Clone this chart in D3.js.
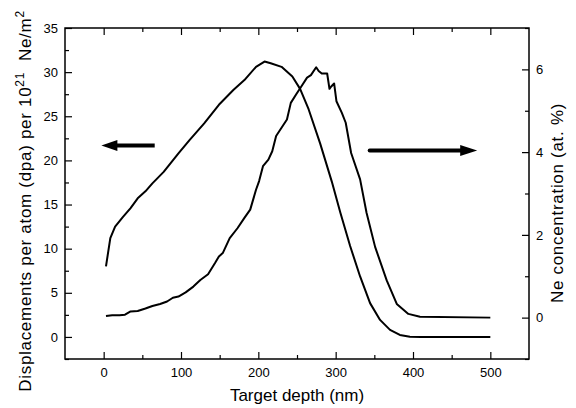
<!DOCTYPE html>
<html>
<head>
<meta charset="utf-8">
<script src="https://cdn.jsdelivr.net/npm/d3@7"></script>
<style>
  body { margin: 0; background: #fff; }
  svg { display: block; font-family: "Liberation Sans", Arial, Helvetica, sans-serif; }
</style>
</head>
<body>
<div id="chart"></div>
<script>
// displacements per atom (left axis)
const dpaDepth = [3, 8.6, 14.8, 25, 34.8, 44, 54, 63, 77.6, 96.7, 111, 130, 149, 168, 182, 197, 208, 216, 230, 244, 254, 265, 280, 295, 306, 318.7, 331.6, 344.5, 357.4, 370.3, 383, 396, 410, 500];
const dpaValues = [8.0, 11.2, 12.5, 13.6, 14.6, 15.7, 16.5, 17.4, 18.7, 20.8, 22.3, 24.2, 26.3, 28.0, 29.1, 30.6, 31.2, 31.0, 30.6, 29.5, 28.1, 25.8, 21.9, 17.6, 14.1, 10.3, 6.85, 3.83, 1.93, 0.8, 0.23, 0.03, 0, 0];

// Ne concentration (right axis)
const neDepth = [3, 11, 20.5, 27.6, 34.8, 44, 54, 63, 73, 82, 89.5, 96.7, 106, 116, 125, 135, 144, 149, 154, 163, 173, 182, 189.5, 197, 201, 206, 213, 218, 223, 230, 237, 242, 249, 256, 263, 268, 274.8, 278, 282, 289, 292, 294, 298, 301, 308, 313, 320, 331.6, 340, 351, 366, 379, 394, 409, 500];
const neValues = [0.04, 0.06, 0.06, 0.07, 0.15, 0.16, 0.22, 0.28, 0.33, 0.39, 0.48, 0.51, 0.61, 0.75, 0.91, 1.05, 1.32, 1.48, 1.56, 1.92, 2.16, 2.41, 2.61, 3.09, 3.3, 3.66, 3.82, 4.02, 4.39, 4.59, 4.79, 5.19, 5.4, 5.6, 5.8, 5.86, 6.05, 5.96, 5.9, 5.9, 5.53, 5.58, 5.66, 5.23, 4.95, 4.71, 3.98, 3.34, 2.53, 1.71, 0.9, 0.33, 0.09, 0.02, 0];

const xMajor = [0, 100, 200, 300, 400, 500];
const xMinor = [50, 150, 250, 350, 450];
const leftMajor = [0, 5, 10, 15, 20, 25, 30, 35];
const leftMinor = [-2.5, 2.5, 7.5, 12.5, 17.5, 22.5, 27.5, 32.5];
const rightMajor = [0, 2, 4, 6];
const rightMinor = [-1, 1, 3, 5, 7];

const width = 576;
const height = 408;
const margin = { top: 28, right: 47, bottom: 49, left: 65 };

const svg = d3.select('#chart')
  .append('svg')
  .attr('width', width)
  .attr('height', height);

const x = d3.scaleLinear()
  .domain([-50, 550])
  .range([margin.left, width - margin.right]);

const yLeft = d3.scaleLinear()
  .domain([-2.5, 35])
  .range([height - margin.bottom, margin.top]);

const yRight = d3.scaleLinear()
  .domain([-1, 7])
  .range([height - margin.bottom, margin.top]);

const bottom = height - margin.bottom;
const right = width - margin.right;

function styleAxis(g) {
  g.select('.domain').remove();
  g.selectAll('line').attr('stroke', '#000').attr('stroke-width', 1.2);
  g.selectAll('text').attr('fill', '#000').attr('font-size', '13px');
}

// bottom
svg.append('g')
  .attr('transform', `translate(0, ${bottom})`)
  .call(d3.axisBottom(x).tickValues(xMajor).tickSize(-7).tickPadding(9).tickFormat(d3.format('d')))
  .call(styleAxis);
svg.append('g')
  .attr('transform', `translate(0, ${bottom})`)
  .call(d3.axisBottom(x).tickValues(xMinor).tickSize(-4).tickFormat(''))
  .call(styleAxis);
// top
svg.append('g')
  .attr('transform', `translate(0, ${margin.top})`)
  .call(d3.axisTop(x).tickValues(xMajor).tickSize(-7).tickFormat(''))
  .call(styleAxis);
svg.append('g')
  .attr('transform', `translate(0, ${margin.top})`)
  .call(d3.axisTop(x).tickValues(xMinor).tickSize(-4).tickFormat(''))
  .call(styleAxis);
// left
svg.append('g')
  .attr('transform', `translate(${margin.left}, 0)`)
  .call(d3.axisLeft(yLeft).tickValues(leftMajor).tickSize(-7).tickPadding(7))
  .call(styleAxis);
svg.append('g')
  .attr('transform', `translate(${margin.left}, 0)`)
  .call(d3.axisLeft(yLeft).tickValues(leftMinor).tickSize(-4).tickFormat(''))
  .call(styleAxis);
// right
svg.append('g')
  .attr('transform', `translate(${right}, 0)`)
  .call(d3.axisRight(yRight).tickValues(rightMajor).tickSize(-7).tickPadding(7))
  .call(styleAxis);
svg.append('g')
  .attr('transform', `translate(${right}, 0)`)
  .call(d3.axisRight(yRight).tickValues(rightMinor).tickSize(-4).tickFormat(''))
  .call(styleAxis);

// frame
svg.append('rect')
  .attr('x', margin.left)
  .attr('y', margin.top)
  .attr('width', right - margin.left)
  .attr('height', bottom - margin.top)
  .attr('fill', 'none')
  .attr('stroke', '#000')
  .attr('stroke-width', 1.5);

// curves
const dpaLine = d3.line()
  .x((d, i) => x(dpaDepth[i]))
  .y(d => yLeft(d));

const neLine = d3.line()
  .x((d, i) => x(neDepth[i]))
  .y(d => yRight(d));

svg.append('path')
  .datum(dpaValues)
  .attr('d', dpaLine)
  .attr('fill', 'none')
  .attr('stroke', '#000')
  .attr('stroke-width', 2)
  .attr('stroke-linejoin', 'round');

svg.append('path')
  .datum(neValues)
  .attr('d', neLine)
  .attr('fill', 'none')
  .attr('stroke', '#000')
  .attr('stroke-width', 2)
  .attr('stroke-linejoin', 'round');

// left arrow points to the dpa axis
svg.append('line')
  .attr('x1', x(66)).attr('y1', yLeft(21.7))
  .attr('x2', x(8)).attr('y2', yLeft(21.7))
  .attr('stroke', '#000')
  .attr('stroke-width', 4);
svg.append('path')
  .attr('d', `M${x(-3)},${yLeft(21.7)} l16,-5.5 l0,11 Z`)
  .attr('fill', '#000');

// right arrow points to the Ne axis
svg.append('line')
  .attr('x1', x(344)).attr('y1', yRight(4.04))
  .attr('x2', x(472)).attr('y2', yRight(4.04))
  .attr('stroke', '#000')
  .attr('stroke-width', 4)
  .attr('stroke-linecap', 'round');
svg.append('path')
  .attr('d', `M${x(483)},${yRight(4.04)} l-17,-5.5 l0,11 Z`)
  .attr('fill', '#000');

// axis titles
svg.append('text')
  .attr('x', (margin.left + right) / 2)
  .attr('y', 401)
  .attr('text-anchor', 'middle')
  .attr('font-size', '17px')
  .text('Target depth (nm)');

const leftTitle = svg.append('text')
  .attr('transform', `translate(31, 201) rotate(-90)`)
  .attr('text-anchor', 'middle')
  .attr('font-size', '17px')
  .attr('letter-spacing', '0.7px');
leftTitle.append('tspan').text('Displacements per atom (dpa) per 10');
leftTitle.append('tspan').attr('dy', -7).attr('font-size', '12px').text('21');
leftTitle.append('tspan').attr('dy', 7).text('\u00a0 Ne/m');
leftTitle.append('tspan').attr('dy', -7).attr('font-size', '12px').text('2');

svg.append('text')
  .attr('transform', `translate(563, 203) rotate(-90)`)
  .attr('text-anchor', 'middle')
  .attr('font-size', '17px')
  .attr('letter-spacing', '0.7px')
  .text('Ne concentration (at. %)');
</script>
</body>
</html>
